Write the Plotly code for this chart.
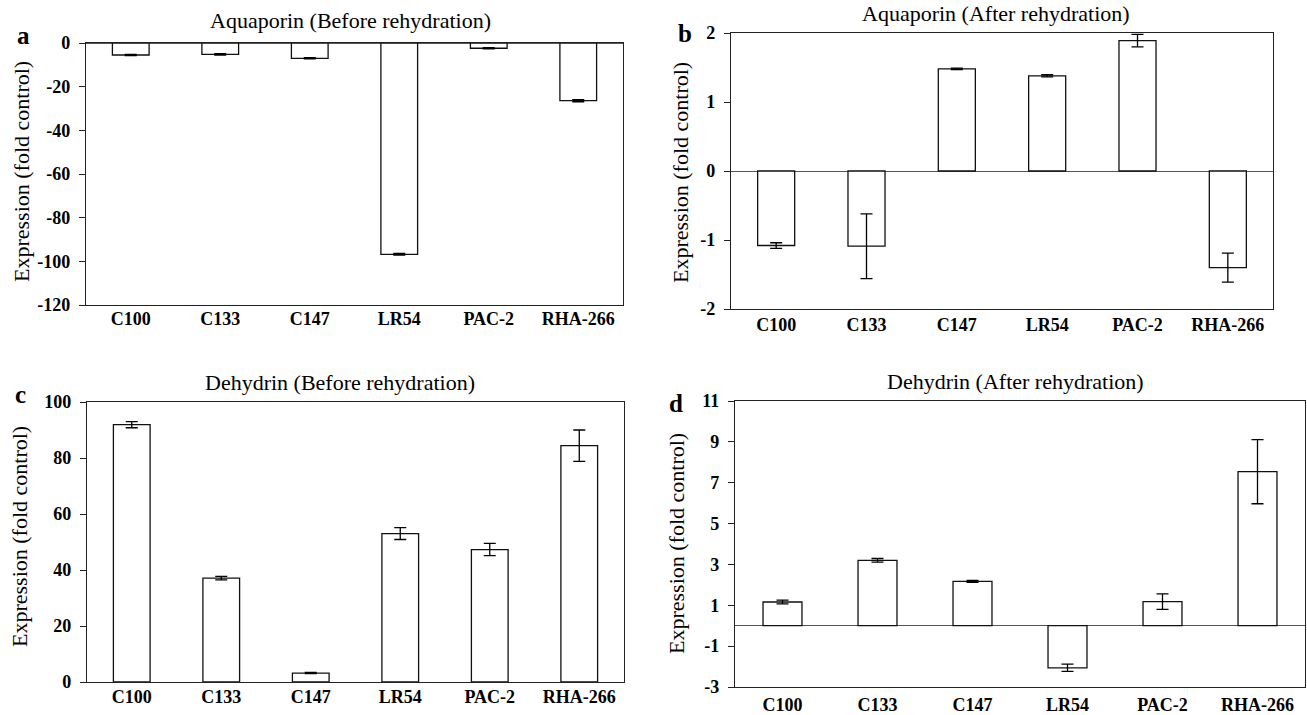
import plotly.graph_objects as go

W, H = 1307, 715

categories = ["C100", "C133", "C147", "LR54", "PAC-2", "RHA-266"]

# Panel a: Aquaporin before rehydration
aqp_before = [-5.5, -5.2, -7.0, -96.8, -2.4, -26.4]
aqp_before_err = [0.3, 0.3, 0.3, 0.4, 0.3, 0.5]
# Panel b: Aquaporin after rehydration
aqp_after = [-1.08, -1.09, 1.48, 1.38, 1.89, -1.40]
aqp_after_err = [0.04, 0.47, 0.01, 0.015, 0.09, 0.21]
# Panel c: Dehydrin before rehydration
dhn_before = [91.9, 37.1, 3.2, 53.0, 47.3, 84.4]
dhn_before_err = [1.1, 0.6, 0.2, 2.1, 2.2, 5.6]
# Panel d: Dehydrin after rehydration
dhn_after = [1.16, 3.2, 2.17, -2.06, 1.18, 7.54]
dhn_after_err = [0.09, 0.09, 0.05, 0.18, 0.38, 1.57]

titles = ["Aquaporin (Before rehydration)", "Aquaporin (After rehydration)",
          "Dehydrin (Before rehydration)", "Dehydrin (After rehydration)"]
letters = ["a", "b", "c", "d"]
ytitle = "Expression (fold control)"

yticks_a = [-120, -100, -80, -60, -40, -20, 0]
yticks_b = [-2, -1, 0, 1, 2]
yticks_c = [0, 20, 40, 60, 80, 100]
yticks_d = [-3, -1, 1, 3, 5, 7, 9, 11]

FONT = "Liberation Serif, Times New Roman, serif"


def px_x(x):
    return x / W


def px_y(y):
    return 1 - y / H


# pixel boxes: (left, right, top, bottom)
boxes = [(86, 623, 43, 305), (731, 1273, 33, 309), (87, 624, 402, 682), (735, 1305, 401, 687)]
yranges = [[-120, 0], [-2, 2], [0, 100], [-3, 11]]
ytickvals = [yticks_a, yticks_b, yticks_c, yticks_d]
xstandoffs = [-3, -1, -2, 1]
data = [(aqp_before, aqp_before_err), (aqp_after, aqp_after_err),
        (dhn_before, dhn_before_err), (dhn_after, dhn_after_err)]

fig = go.Figure()
layout = dict(
    template="none",
    width=W, height=H, margin=dict(l=0, r=0, t=0, b=0, autoexpand=False),
    paper_bgcolor="white", plot_bgcolor="white", showlegend=False,
    font=dict(family=FONT, color="black"),
)
annotations = []
for i, ((vals, errs), box) in enumerate(zip(data, boxes)):
    n = "" if i == 0 else str(i + 1)
    fig.add_trace(go.Bar(
        x=categories, y=vals, width=0.41,
        marker=dict(color="white", line=dict(color="#111", width=1.3)),
        error_y=dict(type="data", array=errs, visible=True, color="black", thickness=1.3, width=6),
        xaxis="x" + n, yaxis="y" + n,
    ))
    l, r, t, b = box
    layout["xaxis" + n] = dict(
        domain=[px_x(l), px_x(r)], anchor="y" + n, range=[-0.5, 5.5],
        showline=True, linecolor="#222", linewidth=1.3, mirror=True,
        ticks="", ticklabelstandoff=xstandoffs[i],
        tickfont=dict(family=FONT, size=18, color="black", weight="bold"),
        showgrid=False, zeroline=False, automargin=False,
    )
    layout["yaxis" + n] = dict(
        domain=[px_y(b), px_y(t)], anchor="x" + n, range=yranges[i],
        tickvals=ytickvals[i], ticktext=[str(v) for v in ytickvals[i]],
        showline=True, linecolor="#222", linewidth=1.3, mirror=True,
        ticks="outside", ticklen=6, tickcolor="#222", tickwidth=1,
        ticklabelstandoff=5,
        tickfont=dict(family=FONT, size=18, color="black", weight="bold"),
        showgrid=False, zeroline=True, zerolinecolor="#555", zerolinewidth=1.2,
        automargin=False,
    )

title_pos = [(350, 20), (996, 13), (340, 382), (1015, 381)]
letter_pos = [(23, 35), (685, 33), (20, 394), (676, 403)]
ytitle_pos = [(21, 172), (681, 173), (19, 537), (676, 544)]
for i in range(4):
    annotations.append(dict(text=titles[i], x=px_x(title_pos[i][0]), y=px_y(title_pos[i][1]),
                            xref="paper", yref="paper", showarrow=False,
                            xanchor="center", yanchor="middle",
                            font=dict(family=FONT, size=22, color="black")))
    annotations.append(dict(text="<b>" + letters[i] + "</b>", x=px_x(letter_pos[i][0]), y=px_y(letter_pos[i][1]),
                            xref="paper", yref="paper", showarrow=False,
                            xanchor="center", yanchor="middle",
                            font=dict(family=FONT, size=25, color="black")))
    annotations.append(dict(text=ytitle, x=px_x(ytitle_pos[i][0]), y=px_y(ytitle_pos[i][1]),
                            xref="paper", yref="paper", showarrow=False, textangle=-90,
                            xanchor="center", yanchor="middle",
                            font=dict(family=FONT, size=22, color="black")))
layout["annotations"] = annotations
fig.update_layout(**layout)
fig.write_html("out.html", config={"displayModeBar": False},
               post_script="document.body.style.margin='0px';")
